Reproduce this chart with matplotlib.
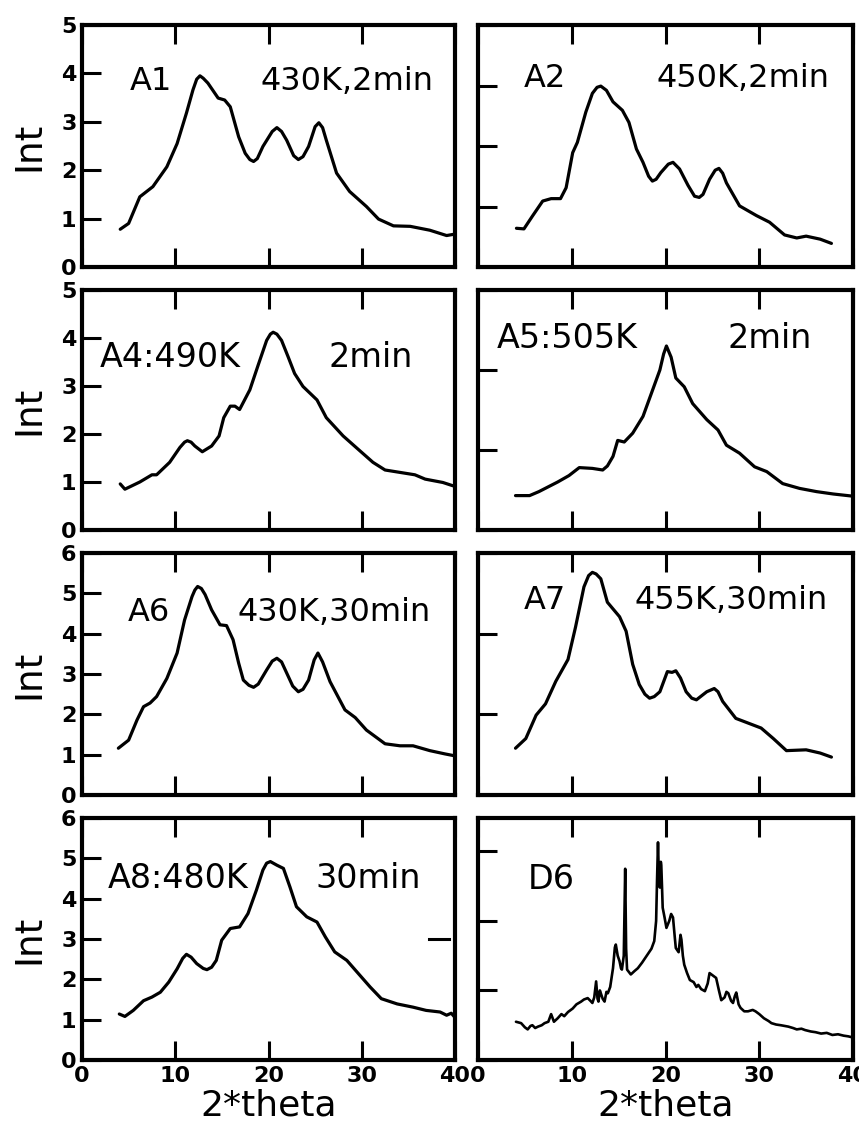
import matplotlib
matplotlib.use("Agg")
import matplotlib.pyplot as plt

a1_x = [4.1, 5.0, 6.2, 7.6, 9.1, 10.2, 11.2, 11.9, 12.3, 12.65, 13.0, 13.5, 14.6, 15.3, 15.9, 16.8, 17.5,
        18.0, 18.4, 18.8, 19.4, 20.4, 20.9, 21.4, 21.95, 22.7, 23.2, 23.7, 24.3, 25.0, 25.4, 25.8, 26.2,
        27.3, 28.7, 30.5, 31.8, 33.4, 35.2, 37.3, 39.1, 40.0]
a1_y = [0.78, 0.90, 1.45, 1.66, 2.07, 2.55, 3.18, 3.66, 3.88, 3.95, 3.90, 3.80, 3.49, 3.45, 3.31, 2.69, 2.35,
        2.22, 2.18, 2.24, 2.49, 2.80, 2.88, 2.80, 2.62, 2.30, 2.22, 2.28, 2.49, 2.90, 2.98, 2.88, 2.62,
        1.94, 1.56, 1.25, 0.99, 0.85, 0.84, 0.76, 0.65, 0.68]

a2_x = [4.1, 4.9, 5.8, 6.9, 7.8, 8.8, 9.4, 10.1, 10.6, 11.5, 12.2, 12.7, 13.1, 13.7, 14.4, 15.4, 16.1, 16.9,
        17.6, 18.2, 18.6, 19.0, 19.5, 20.3, 20.8, 21.5, 22.4, 23.1, 23.6, 24.0, 24.7, 25.3, 25.7, 26.1,
        26.5, 27.9, 29.7, 31.1, 32.7, 34.0, 35.0, 36.5, 37.7]
a2_y = [0.64, 0.63, 0.84, 1.09, 1.13, 1.13, 1.31, 1.89, 2.06, 2.56, 2.87, 2.97, 2.99, 2.92, 2.73, 2.59, 2.39,
        1.95, 1.73, 1.50, 1.42, 1.45, 1.56, 1.70, 1.73, 1.62, 1.35, 1.17, 1.15, 1.20, 1.45, 1.60, 1.63,
        1.55, 1.39, 1.01, 0.85, 0.74, 0.53, 0.48, 0.51, 0.46, 0.39]

a4_x = [4.1, 4.6, 6.2, 7.5, 8.0, 9.4, 10.5, 11.0, 11.3, 11.7, 12.1, 12.9, 13.9, 14.7, 15.2, 15.9, 16.4,
        16.9, 18.0, 18.9, 19.8, 20.2, 20.5, 20.9, 21.4, 22.1, 22.8, 23.7, 25.2, 26.2, 28.0, 29.8, 31.2,
        32.5, 34.1, 35.7, 36.8, 38.7, 39.8]
a4_y = [0.96, 0.85, 1.00, 1.15, 1.15, 1.41, 1.72, 1.83, 1.86, 1.83, 1.75, 1.63, 1.75, 1.96, 2.34, 2.58, 2.58,
        2.51, 2.92, 3.44, 3.95, 4.08, 4.12, 4.08, 3.95, 3.61, 3.26, 2.99, 2.71, 2.34, 1.96, 1.65, 1.41,
        1.25, 1.20, 1.15, 1.06, 0.99, 0.92]

a5_x = [4.0, 5.5, 6.5, 8.5, 9.7, 10.8, 12.2, 13.3, 13.8, 14.4, 14.9, 15.6, 16.5, 17.6, 18.5, 19.4, 19.8,
        20.1, 20.6, 21.1, 22.0, 22.9, 24.4, 25.6, 26.5, 27.9, 29.5, 30.8, 32.5, 34.3, 36.1, 37.9, 40.2]
a5_y = [0.43, 0.43, 0.48, 0.60, 0.68, 0.78, 0.77, 0.75, 0.80, 0.92, 1.12, 1.10, 1.21, 1.42, 1.71, 2.00, 2.20,
        2.30, 2.16, 1.90, 1.79, 1.58, 1.38, 1.25, 1.06, 0.96, 0.79, 0.73, 0.58, 0.52, 0.48, 0.45, 0.42]

a6_x = [3.9, 5.0, 5.9, 6.6, 7.3, 8.0, 9.1, 10.2, 11.0, 11.8, 12.1, 12.4, 12.8, 13.2, 13.9, 14.8, 15.5, 16.2,
        16.8, 17.3, 17.9, 18.4, 18.9, 19.8, 20.4, 20.9, 21.4, 21.8, 22.6, 23.2, 23.7, 24.3, 24.9, 25.3,
        25.8, 26.6, 28.2, 29.3, 30.5, 32.5, 34.1, 35.5, 37.3, 38.9, 40.0]
a6_y = [1.16, 1.36, 1.86, 2.19, 2.28, 2.44, 2.89, 3.52, 4.34, 4.92, 5.08, 5.17, 5.12, 4.97, 4.59, 4.22, 4.20,
        3.85, 3.27, 2.85, 2.72, 2.67, 2.75, 3.10, 3.32, 3.39, 3.30, 3.10, 2.70, 2.56, 2.62, 2.85, 3.35, 3.52,
        3.30, 2.81, 2.11, 1.92, 1.61, 1.27, 1.22, 1.22, 1.10, 1.02, 0.97]

a7_x = [4.0, 5.1, 6.2, 7.2, 8.3, 9.6, 10.4, 11.3, 11.8, 12.2, 12.6, 13.1, 13.8, 15.1, 15.8, 16.5, 17.2,
        17.8, 18.3, 18.8, 19.4, 20.2, 20.7, 21.1, 21.6, 22.2, 22.8, 23.3, 24.4, 25.2, 25.6, 26.1, 27.5,
        29.3, 30.2, 31.5, 32.9, 35.0, 36.5, 37.7]
a7_y = [0.58, 0.70, 0.99, 1.13, 1.41, 1.68, 2.08, 2.58, 2.72, 2.76, 2.74, 2.68, 2.39, 2.21, 2.03, 1.62, 1.37,
        1.25, 1.20, 1.22, 1.28, 1.53, 1.52, 1.54, 1.45, 1.28, 1.20, 1.18, 1.28, 1.32, 1.28, 1.16, 0.95,
        0.87, 0.83, 0.70, 0.55, 0.56, 0.52, 0.47]

a8_x = [4.0, 4.6, 5.5, 6.6, 7.5, 8.4, 9.3, 10.2, 10.8, 11.2, 11.7, 12.3, 13.0, 13.4, 13.9, 14.4, 14.98, 15.9,
        16.9, 17.8, 18.7, 19.4, 19.8, 20.2, 20.9, 21.6, 22.3, 23.0, 24.1, 25.2, 26.1, 27.1, 28.4, 29.8,
        30.9, 32.1, 33.8, 35.5, 36.9, 38.4, 39.1, 39.6, 39.9]
a8_y = [1.14, 1.08, 1.23, 1.47, 1.56, 1.68, 1.93, 2.26, 2.52, 2.62, 2.55, 2.39, 2.27, 2.24, 2.30, 2.47, 2.97,
        3.26, 3.30, 3.63, 4.21, 4.71, 4.88, 4.92, 4.83, 4.75, 4.29, 3.80, 3.55, 3.42, 3.05, 2.68, 2.47,
        2.10, 1.81, 1.52, 1.39, 1.31, 1.23, 1.19, 1.11, 1.16, 1.08]

d6_x = [4.05, 4.6, 5.0, 5.3, 5.6, 5.8, 6.1, 6.4, 6.8, 7.1, 7.5, 7.8, 8.1, 8.5, 8.9, 9.2, 9.6, 10.1, 10.5,
        11.0, 11.3, 11.7, 12.0, 12.2, 12.4, 12.6, 12.75, 12.85, 13.0, 13.1, 13.3, 13.5, 13.7, 13.85, 14.1,
        14.4, 14.6, 14.7, 14.9, 15.1, 15.25, 15.35, 15.55, 15.7, 15.8, 15.9, 16.3, 16.7, 17.05, 17.5, 18.1,
        18.5, 18.8, 19.0, 19.1, 19.2, 19.3, 19.4, 19.5, 19.55, 19.65, 19.7, 19.9, 20.1, 20.4, 20.6, 20.8,
        21.0, 21.1, 21.4, 21.6, 21.7, 21.85, 22.0, 22.3, 22.6, 23.0, 23.3, 23.5, 23.8, 24.2, 24.5, 24.7,
        25.0, 25.4, 25.7, 25.95, 26.3, 26.5, 26.7, 27.0, 27.2, 27.4, 27.55, 27.8, 28.0, 28.4, 28.8, 29.3,
        29.6, 30.0, 30.5, 31.0, 31.3, 31.8, 32.3, 33.1, 33.6, 34.0, 34.5, 34.9, 35.5, 36.0, 36.6, 37.2,
        37.8, 38.4, 39.0, 39.5, 39.8, 40.2]
d6_y = [0.55, 0.53, 0.47, 0.44, 0.49, 0.50, 0.46, 0.48, 0.50, 0.53, 0.55, 0.66, 0.55, 0.60, 0.66, 0.63, 0.69,
        0.74, 0.80, 0.84, 0.87, 0.89, 0.85, 0.82, 0.90, 1.13, 0.88, 0.84, 1.00, 0.96, 0.88, 0.84, 0.98, 0.96,
        1.05, 1.32, 1.62, 1.66, 1.50, 1.42, 1.32, 1.30, 1.50, 2.75, 1.60, 1.30, 1.23, 1.28, 1.32, 1.40, 1.52,
        1.60, 1.71, 2.00, 2.60, 3.13, 2.60, 2.48, 2.85, 2.80, 2.40, 2.19, 2.05, 1.90, 2.00, 2.10, 2.05, 1.75,
        1.61, 1.55, 1.80, 1.73, 1.50, 1.37, 1.25, 1.15, 1.12, 1.05, 1.08, 1.02, 0.99, 1.10, 1.25, 1.22, 1.18,
        1.00, 0.86, 0.90, 0.98, 0.96, 0.85, 0.82, 0.92, 0.97, 0.80, 0.75, 0.70, 0.70, 0.72, 0.70, 0.66, 0.60,
        0.56, 0.53, 0.51, 0.50, 0.48, 0.46, 0.44, 0.45, 0.43, 0.41, 0.40, 0.38, 0.39, 0.36, 0.37, 0.35, 0.34,
        0.33, 0.36]

# panel order: row by row, left then right
curves = [(a1_x, a1_y), (a2_x, a2_y), (a4_x, a4_y), (a5_x, a5_y),
          (a6_x, a6_y), (a7_x, a7_y), (a8_x, a8_y), (d6_x, d6_y)]
ytops = [5, 4, 5, 3, 6, 3, 6, 3.48]
labels = [("A1", "430K,2min"), ("A2", "450K,2min"), ("A4:490K", "2min"), ("A5:505K", "2min"),
          ("A6", "430K,30min"), ("A7", "455K,30min"), ("A8:480K", "30min"), ("D6", "")]
label_x = [(5.1, 19.1), (4.9, 19.0), (1.9, 26.4), (2.0, 26.6),
           (4.9, 16.7), (4.9, 16.7), (2.8, 25.0), (5.3, 0)]
label_y = [3.66, 2.97, 3.40, 2.27, 4.32, 2.30, 4.26, 2.46]
label_size = [23, 23, 24, 24, 23, 23, 24, 24]

W, H = 859, 1129
fig = plt.figure(figsize=(W / 100, H / 100), dpi=100)
col_px = [(82, 455), (478, 853)]
row_px = [(25, 267), (290, 530), (553, 795), (818, 1060)]

for i in range(8):
    r, c = i // 2, i % 2
    x0, x1 = col_px[c]
    t, b = row_px[r]
    ax = fig.add_axes([x0 / W, 1 - b / H, (x1 - x0) / W, (b - t) / H])
    xs, ys = curves[i]
    lw = 1.9 if i == 7 else 2.3
    ax.plot(xs, ys, color="black", lw=lw, solid_joinstyle="round", solid_capstyle="round")
    ax.set_xlim(0, 40)
    ax.set_ylim(0, ytops[i])
    for s in ax.spines.values():
        s.set_linewidth(3)
    ax.set_xticks([0, 10, 20, 30, 40])
    ax.set_yticks(range(0, int(ytops[i]) + 1))
    ax.tick_params(direction="in", length=14, width=2.2, labelsize=16, pad=4)
    ax.tick_params(axis="x", top=True)
    for lab in ax.get_xticklabels() + ax.get_yticklabels():
        lab.set_fontweight("bold")
    if r < 3:
        ax.tick_params(axis="x", labelbottom=False)
    else:
        ax.set_xlabel("2*theta", fontsize=26, labelpad=2)
    if c == 1:
        ax.tick_params(axis="y", labelleft=False)
    else:
        ax.set_ylabel("Int", fontsize=27, labelpad=10)
    t1, t2 = labels[i]
    ax.text(label_x[i][0], label_y[i], t1, fontsize=label_size[i], va="baseline")
    if t2:
        ax.text(label_x[i][1], label_y[i], t2, fontsize=label_size[i], va="baseline")
    if i == 6:
        ax.axhline(3, xmin=0.93, xmax=0.985, color="black", lw=2.2)

fig.savefig("out.png", dpi=100)
